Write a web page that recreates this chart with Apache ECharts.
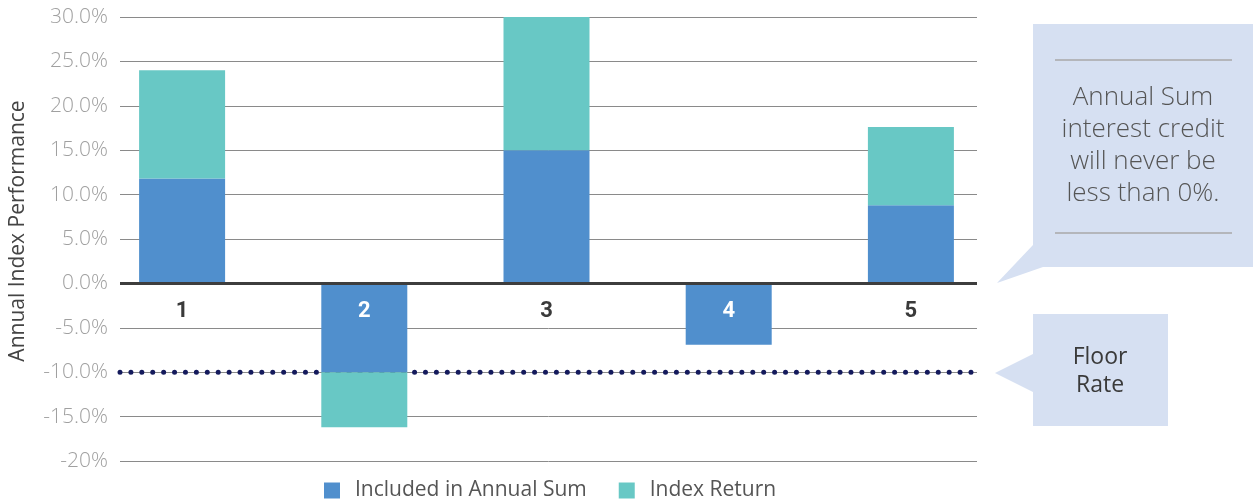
<!DOCTYPE html>
<html>
<head>
<meta charset="utf-8">
<script src="https://cdn.jsdelivr.net/npm/echarts@6/dist/echarts.min.js"></script>
<style>
html,body{margin:0;padding:0;background:#fff;}
#chart{width:1253px;height:502px;}
</style>
</head>
<body>
<div id="chart"></div>
<script>
// ---- data ----
var categories = ['1', '2', '3', '4', '5'];
var includedInAnnualSum = [11.8, -10.0, 15.0, -6.9, 8.8];
var indexReturn = [24.0, -16.2, 30.0, -6.9, 17.6];
var yTickValues = [30, 25, 20, 15, 10, 5, 0, -5, -10, -15, -20];
var yTickLabels = ['30.0%', '25.0%', '20.0%', '15.0%', '10.0%', '5.0%', '0.0%', '-5.0%', '-10.0%', '-15.0%', '-20%'];
var floorRate = -10;
var zeroLevel = 0;
var seriesNames = ['Included in Annual Sum', 'Index Return'];

// portion of index return beyond the included part (stacked segment)
var excessPart = indexReturn.map(function (v, i) { return +(v - includedInAnnualSum[i]).toFixed(2); });

var Y_MIN = -20, Y_MAX = 30, Y_STEP = 5;
var W = 1253, H = 502, GRID_TOP = 17, GRID_BOTTOM = 41;
var plotH = H - GRID_TOP - GRID_BOTTOM;
// move the category axis from the grid bottom up to the zero level
var zeroY = GRID_TOP + (Y_MAX - zeroLevel) / (Y_MAX - Y_MIN) * plotH;
var catAxisOffset = zeroY - (H - GRID_BOTTOM);

var FONT = '"Open Sans", Lato, "Noto Sans", sans-serif';
var chart = echarts.init(document.getElementById('chart'), null, {renderer: 'canvas'});

var option = {
  animation: false,
  backgroundColor: '#ffffff',
  grid: [
    {left: 91, right: 251, top: GRID_TOP, bottom: GRID_BOTTOM},   // bars
    {left: 120, right: 276, top: GRID_TOP, bottom: GRID_BOTTOM}   // gridlines, labels, reference lines
  ],
  xAxis: [
    {
      gridIndex: 0, type: 'category', data: categories, position: 'bottom', offset: catAxisOffset,
      axisLine: {show: false, onZero: false},
      axisTick: {show: false},
      axisLabel: {
        margin: 17, fontSize: 22, fontWeight: 'bold', fontFamily: 'Roboto, sans-serif',
        color: function (value, index) { return includedInAnnualSum[index] < 0 ? '#ffffff' : '#3a3a3a'; }
      },
      splitLine: {show: false},
      z: 10
    },
    {
      gridIndex: 1, type: 'value', min: 0, max: 1, show: false
    }
  ],
  yAxis: [
    {
      gridIndex: 0, type: 'value', min: Y_MIN, max: Y_MAX, interval: Y_STEP, show: false,
      splitLine: {show: false}
    },
    {
      gridIndex: 1, type: 'value', min: Y_MIN, max: Y_MAX, interval: Y_STEP,
      axisLine: {show: false}, axisTick: {show: false},
      axisLabel: {
        margin: 12, fontSize: 21, color: '#a0a0a0', fontFamily: FONT, fontWeight: 300,
        formatter: function (v) { var i = yTickValues.indexOf(v); return i >= 0 ? yTickLabels[i] : ''; }
      },
      splitLine: {show: true, lineStyle: {color: '#8a8a8a', width: 1}}
    }
  ],
  legend: {
    data: seriesNames,
    left: 324, top: 480, padding: 0,
    itemWidth: 16, itemHeight: 16, itemGap: 32, icon: 'rect',
    textStyle: {fontSize: 21, color: '#555555', fontFamily: FONT, padding: [0, 0, 0, 10]}
  },
  series: [
    {
      name: 'floorLine', type: 'line', xAxisIndex: 1, yAxisIndex: 1,
      data: [[0, floorRate], [1, floorRate]],
      silent: true, z: 1, symbol: 'none',
      lineStyle: {color: '#141a5c', width: 5, type: [0.01, 10.9], cap: 'round'},
      emphasis: {disabled: true}
    },
    {
      name: seriesNames[0], type: 'bar', xAxisIndex: 0, yAxisIndex: 0, stack: 'perf',
      barWidth: 86, data: includedInAnnualSum, z: 3,
      itemStyle: {color: '#508fcd'}
    },
    {
      name: seriesNames[1], type: 'bar', xAxisIndex: 0, yAxisIndex: 0, stack: 'perf',
      barWidth: 86, data: excessPart, z: 3,
      itemStyle: {color: '#68c8c5'}
    },
    {
      name: 'zeroLine', type: 'line', xAxisIndex: 1, yAxisIndex: 1,
      data: [[0, zeroLevel], [1, zeroLevel]],
      silent: true, z: 5, symbol: 'none',
      lineStyle: {color: '#3d3d3d', width: 3, type: 'solid'},
      emphasis: {disabled: true}
    }
  ],
  graphic: [
    {
      type: 'text', x: 18, y: 231, rotation: Math.PI / 2,
      style: {text: 'Annual Index Performance', fontSize: 21, fill: '#444444', fontFamily: FONT,
        align: 'center', verticalAlign: 'middle'}
    },
    {
      type: 'polygon', z: 50,
      shape: {points: [[1033, 24], [1253, 24], [1253, 267], [1043, 267], [997, 283], [1033, 245]]},
      style: {fill: '#d6e0f2'}
    },
    {type: 'line', z: 51, shape: {x1: 1055, y1: 60, x2: 1232, y2: 60}, style: {stroke: '#a8a8a8', lineWidth: 1.5}},
    {type: 'line', z: 51, shape: {x1: 1055, y1: 233, x2: 1232, y2: 233}, style: {stroke: '#a8a8a8', lineWidth: 1.5}},
    {
      type: 'text', z: 52, x: 1143, y: 146,
      style: {text: 'Annual Sum\ninterest credit\nwill never be\nless than 0%.', fontSize: 26, lineHeight: 32,
        fill: '#555555', fontFamily: FONT, fontWeight: 300, align: 'center', verticalAlign: 'middle'}
    },
    {
      type: 'polygon', z: 50,
      shape: {points: [[1033, 314], [1168, 314], [1168, 426], [1033, 426], [1033, 392], [995, 373], [1033, 354]]},
      style: {fill: '#d6e0f2'}
    },
    {
      type: 'text', z: 52, x: 1100, y: 371,
      style: {text: 'Floor\nRate', fontSize: 23, lineHeight: 28,
        fill: '#3a3a3a', fontFamily: FONT, align: 'center', verticalAlign: 'middle'}
    }
  ]
};
chart.setOption(option);
</script>
</body>
</html>
